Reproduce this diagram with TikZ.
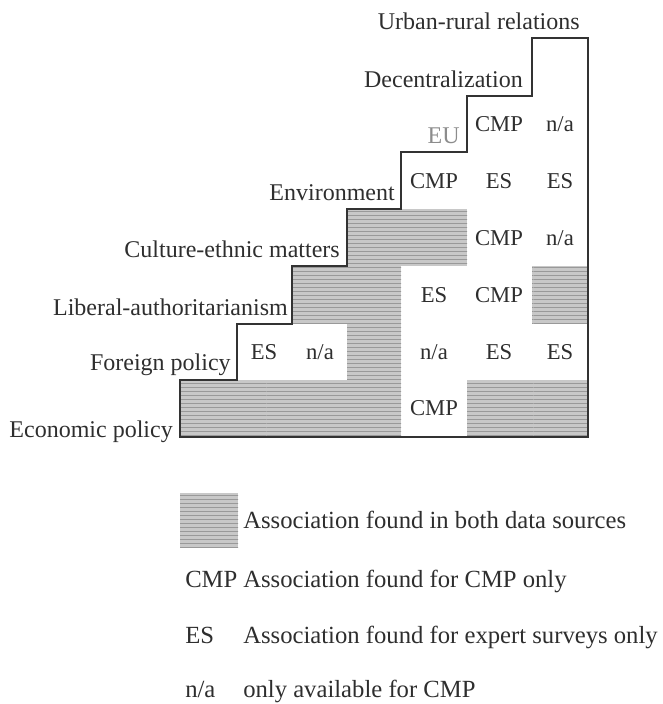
\documentclass[tikz,border=0pt]{standalone}
\usepackage{fontspec}
\setmainfont{Liberation Serif}
\usetikzlibrary{patterns}
\definecolor{outline}{HTML}{333333}
\definecolor{shade}{HTML}{C8C8C8}
\definecolor{textgray}{HTML}{2E2E2E}
\definecolor{eugray}{HTML}{8C8C8C}
\newcommand{\notavail}{n/a}

\begin{document}
\begin{tikzpicture}[x=0.75pt,y=-0.75pt,
    both/.style={fill=shade,postaction={pattern=horizontal lines,pattern color=black!40}},
    cell/.style={text=textgray,font=\fontsize{17}{20}\selectfont},
    rowlabel/.style={anchor=base east,inner sep=0pt,text=textgray,font=\fontsize{18}{21}\selectfont},
    legend/.style={anchor=base west,inner sep=0pt,text=textgray,font=\fontsize{18.5}{22}\selectfont}]
    \useasboundingbox (0,0) rectangle (663,704);
    \foreach \a/\b/\c/\d in {180/380/401/437,467/380/588/437,347/324/401/380,292/266/401/324,532/266/588/324,347/209/467/266}{\fill[both] (\a,\b) rectangle (\c,\d);}
    \draw[outline,line width=1.2pt,line join=miter] (180,437) -- (180,380) -- (237,380) -- (237,324) -- (292,324) -- (292,266) -- (347,266) -- (347,209) -- (401,209) -- (401,152) -- (467,152) -- (467,96) -- (532,96) -- (532,38) -- (588,38) -- (588,437) -- cycle;
    \foreach \x/\y/\t/\n in {434/408/CMP/econ5,264/352/ES/fore2,320/352/\notavail/fore3,434/352/\notavail/fore5,499/352/ES/fore6,560/352/ES/fore7,434/295/ES/lib5,499/295/CMP/lib6,499/238/CMP/cult6,560/238/\notavail/cult7,434/181/CMP/env5,499/181/ES/env6,560/181/ES/env7,499/124/CMP/eu6,560/124/\notavail/eu7}{\node[cell] (\n) at (\x,\y) {\t};}
    \node[rowlabel] (econ) at (173,437) {Economic policy};
    \node[rowlabel] (foreign) at (231,370) {Foreign policy};
    \node[rowlabel] (liberal) at (288,315) {Liberal-authoritarianism};
    \node[rowlabel] (culture) at (340,257) {Culture-ethnic matters};
    \node[rowlabel] (environ) at (395,200) {Environment};
    \node[rowlabel,text=eugray] (eu) at (460,143) {EU};
    \node[rowlabel] (decentral) at (523,87) {Decentralization};
    \node[rowlabel] (urban) at (580,29) {Urban-rural relations};
    \fill[both] (180,493) rectangle (238,548);
    \node[legend] (txtboth) at (243,528) {Association found in both data sources};
    \node[legend] (keycmp) at (185,587) {CMP};
    \node[legend] (txtcmp) at (243,587) {Association found for CMP only};
    \node[legend] (keyes) at (185,643) {ES};
    \node[legend] (txtes) at (243,643) {Association found for expert surveys only};
    \node[legend] (keyna) at (185,697) {n/a};
    \node[legend] (txtna) at (243,697) {only available for CMP};
  \end{tikzpicture}
\end{document}
